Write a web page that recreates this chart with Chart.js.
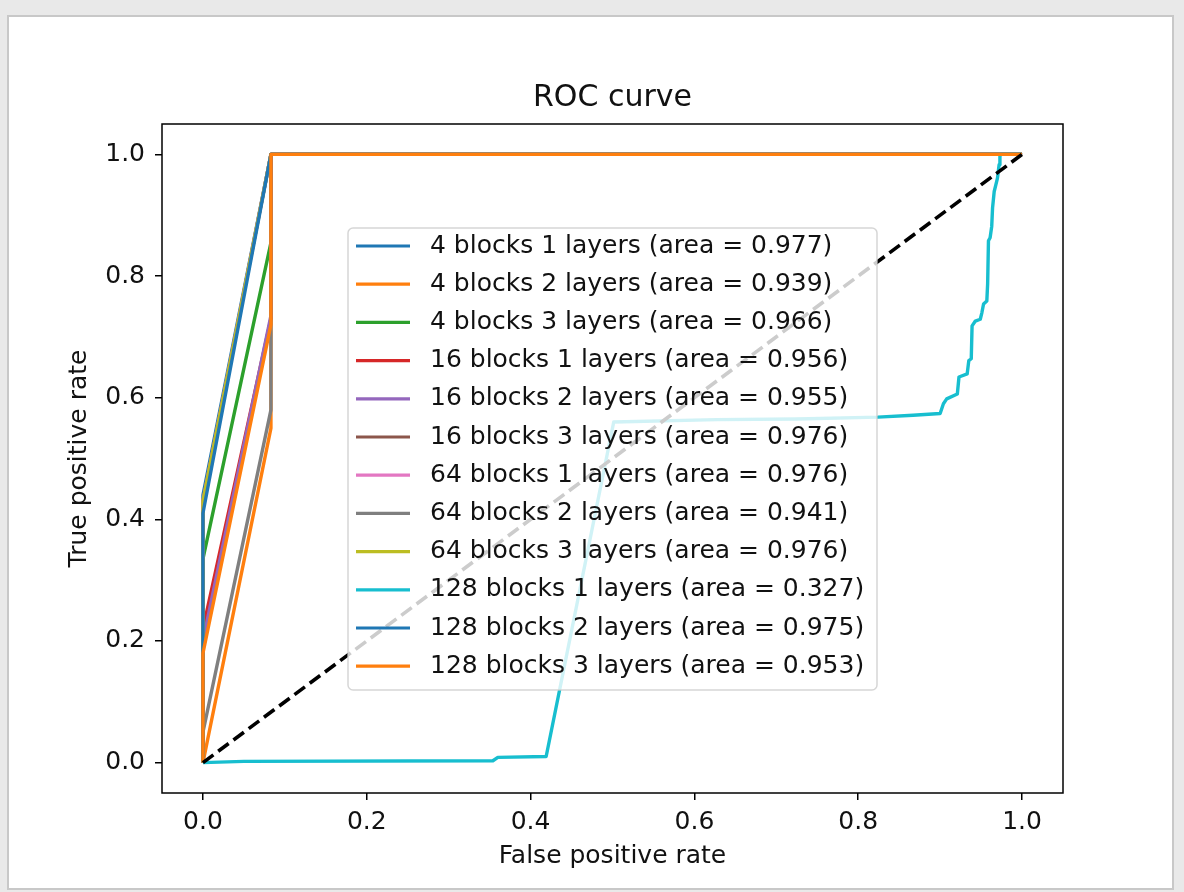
<!DOCTYPE html>
<html>
<head>
<meta charset="utf-8">
<script src="https://cdn.jsdelivr.net/npm/chart.js@4/dist/chart.umd.min.js"></script>
<style>
  body { margin: 0; background: #e9e9e9; }
  #frame { position: absolute; left: 7px; top: 15px; width: 1163px; height: 871px; background: #fff; border: 2px solid #c8c8c8; }
  #myChart { position: absolute; left: 0; top: 0; }
</style>
</head>
<body>
<div id="frame"></div>
<canvas id="myChart" width="1184" height="892"></canvas>
<script>
const chartTitle = 'ROC curve';
const xTicks = [0, 0.2, 0.4, 0.6, 0.8, 1.0];
const yTicks = [0, 0.2, 0.4, 0.6, 0.8, 1.0];

const curveNames = [
    '4 blocks 1 layers', '4 blocks 2 layers', '4 blocks 3 layers',
    '16 blocks 1 layers', '16 blocks 2 layers', '16 blocks 3 layers',
    '64 blocks 1 layers', '64 blocks 2 layers', '64 blocks 3 layers',
    '128 blocks 1 layers', '128 blocks 2 layers', '128 blocks 3 layers'
];
const areas = [0.977, 0.939, 0.966, 0.956, 0.955, 0.976, 0.976, 0.941, 0.976, 0.327, 0.975, 0.953];
const colors = ['#1f77b4', '#ff7f0e', '#2ca02c', '#d62728', '#9467bd', '#8c564b',
                '#e377c2', '#7f7f7f', '#bcbd22', '#17becf', '#1f77b4', '#ff7f0e'];

// false positive / true positive rates
const fpr4b1 = [0, 0, 0.083, 1];
const tpr4b1 = [0, 0.44, 1, 1];
const fpr4b2 = [0, 0.083, 0.083, 1];
const tpr4b2 = [0, 0.55, 1, 1];
const fpr4b3 = [0, 0, 0.083, 0.083, 1];
const tpr4b3 = [0, 0.335, 0.855, 1, 1];
const fpr16b1 = [0, 0, 0.083, 0.083, 1];
const tpr16b1 = [0, 0.22, 0.73, 1, 1];
const fpr16b2 = [0, 0, 0.083, 0.083, 1];
const tpr16b2 = [0, 0.2, 0.735, 1, 1];
const fpr16b3 = [0, 0, 0.083, 1];
const tpr16b3 = [0, 0.43, 1, 1];
const fpr64b1 = [0, 0, 0.083, 1];
const tpr64b1 = [0, 0.43, 1, 1];
const fpr64b2 = [0, 0, 0.083, 0.083, 1];
const tpr64b2 = [0, 0.05, 0.58, 1, 1];
const fpr64b3 = [0, 0, 0.083, 1];
const tpr64b3 = [0, 0.43, 1, 1];
const fpr128b1 = [0, 0.05, 0.354, 0.36, 0.419, 0.5015, 0.627, 0.725, 0.824, 0.867, 0.900,
                  0.904, 0.908, 0.921, 0.923, 0.933, 0.935, 0.938, 0.939, 0.943, 0.949,
                  0.951, 0.953, 0.957, 0.958, 0.959, 0.961, 0.963, 0.964, 0.966, 0.968,
                  0.970, 0.972, 0.973, 0.974, 1.0];
const tpr128b1 = [0, 0.002, 0.003, 0.0085, 0.01, 0.56, 0.564, 0.565, 0.568, 0.571, 0.574,
                  0.590, 0.598, 0.606, 0.634, 0.639, 0.661, 0.664, 0.718, 0.726, 0.729,
                  0.740, 0.754, 0.759, 0.787, 0.858, 0.863, 0.882, 0.912, 0.939, 0.950,
                  0.961, 0.983, 0.997, 1.0, 1.0];
const fpr128b2 = [0, 0, 0.083, 1];
const tpr128b2 = [0, 0.41, 1, 1];
const fpr128b3 = [0, 0, 0.083, 0.083, 1];
const tpr128b3 = [0, 0.18, 0.72, 1, 1];

const chanceFpr = [0, 1];
const chanceTpr = [0, 1];

const allFpr = [fpr4b1, fpr4b2, fpr4b3, fpr16b1, fpr16b2, fpr16b3, fpr64b1, fpr64b2, fpr64b3, fpr128b1, fpr128b2, fpr128b3];
const allTpr = [tpr4b1, tpr4b2, tpr4b3, tpr16b1, tpr16b2, tpr16b3, tpr64b1, tpr64b2, tpr64b3, tpr128b1, tpr128b2, tpr128b3];

function toPoints(xs, ys){
    let pts = [];
    for(let i = 0; i < xs.length; i++){
        pts.push({x: xs[i], y: ys[i]});
    }
    return pts;
}

Chart.defaults.font.family = "'DejaVu Sans', sans-serif";
Chart.defaults.color = '#111';

let datasets = [];
// dashed chance line goes on top of everything
datasets.push({
    label: 'chance',
    data: toPoints(chanceFpr, chanceTpr),
    borderColor: '#000',
    borderWidth: 3.6,
    borderDash: [13, 6],
    order: 0
});
for(let i = 0; i < curveNames.length; i++){
    datasets.push({
        label: curveNames[i] + ' (area = ' + areas[i].toFixed(3) + ')',
        data: toPoints(allFpr[i], allTpr[i]),
        borderColor: colors[i],
        borderWidth: 3.4,
        borderJoinStyle: 'round',
        // later curves drawn over earlier ones, like matplotlib
        order: curveNames.length - i
    });
}

// title centred over the axes, top/right spines, and the see-through legend box
const framePlugin = {
    id: 'framePlugin',
    afterDatasetsDraw(chart){
        const c = chart.ctx;
        const a = chart.chartArea;
        c.save();
        c.strokeStyle = '#000';
        c.lineWidth = 1.5;
        c.strokeRect(a.left, a.top, a.right - a.left, a.bottom - a.top);

        c.fillStyle = '#111';
        c.font = "30px 'DejaVu Sans'";
        c.textAlign = 'center';
        c.textBaseline = 'alphabetic';
        c.fillText(chartTitle, (a.left + a.right) / 2, a.top - 18);

        // legend
        const bx = 348, by = 228, bw = 529, bh = 462;
        c.beginPath();
        c.roundRect(bx, by, bw, bh, 5);
        c.fillStyle = 'rgba(255,255,255,0.8)';
        c.fill();
        c.strokeStyle = 'rgba(204,204,204,0.8)';
        c.lineWidth = 1.5;
        c.stroke();

        c.font = "25px 'DejaVu Sans'";
        c.textBaseline = 'middle';
        c.textAlign = 'left';
        for(let i = 0; i < curveNames.length; i++){
            const ds = chart.data.datasets[i + 1];
            const rowY = 246 + i * 38.2;
            c.beginPath();
            c.strokeStyle = ds.borderColor;
            c.lineWidth = 3.2;
            c.moveTo(356, rowY);
            c.lineTo(410, rowY);
            c.stroke();
            c.fillStyle = '#111';
            c.fillText(ds.label, 430, rowY);
        }
        c.restore();
    }
};

const ctx = document.getElementById('myChart').getContext('2d');
const myChart = new Chart(ctx, {
    type: 'line',
    data: { datasets: datasets },
    plugins: [framePlugin],
    options: {
        responsive: false,
        animation: false,
        elements: {
            point: { radius: 0 },
            line: { tension: 0, fill: false }
        },
        layout: { padding: { left: 0, top: 124, right: 121, bottom: 0 } },
        plugins: {
            legend: { display: false },
            tooltip: { enabled: false },
            title: { display: false }
        },
        scales: {
            x: {
                type: 'linear',
                min: -0.05,
                max: 1.05,
                afterBuildTicks: axis => { axis.ticks = xTicks.map(v => ({value: v})); },
                afterFit: axis => { axis.height = 99; },
                ticks: {
                    padding: 7,
                    maxRotation: 0,
                    font: { size: 25 },
                    callback: v => v.toFixed(1)
                },
                grid: { drawOnChartArea: false, color: '#000', lineWidth: 1.5, tickLength: 7 },
                border: { display: false },
                title: {
                    display: true,
                    text: 'False positive rate',
                    font: { size: 25 },
                    padding: { top: 0, bottom: 21 }
                }
            },
            y: {
                type: 'linear',
                min: -0.05,
                max: 1.05,
                afterBuildTicks: axis => { axis.ticks = yTicks.map(v => ({value: v})); },
                afterFit: axis => { axis.width = 162; },
                ticks: {
                    padding: 10,
                    font: { size: 25 },
                    callback: v => v.toFixed(1)
                },
                grid: { drawOnChartArea: false, color: '#000', lineWidth: 1.5, tickLength: 7 },
                border: { display: false },
                title: {
                    display: true,
                    text: 'True positive rate',
                    font: { size: 25 },
                    padding: { top: 64, bottom: 0 }
                }
            }
        }
    }
});
</script>
</body>
</html>
